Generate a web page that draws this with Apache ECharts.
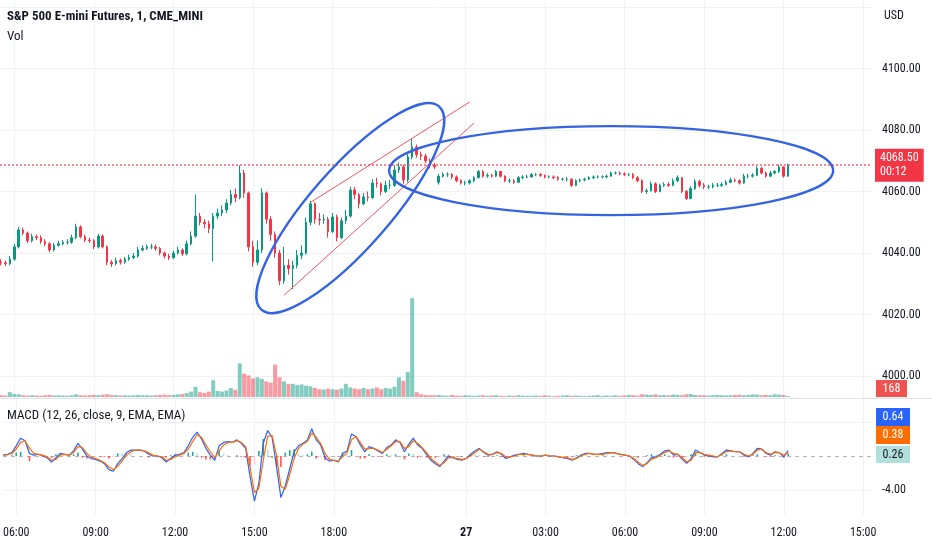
<!DOCTYPE html>
<html><head><meta charset="utf-8">
<script src="https://cdn.jsdelivr.net/npm/echarts@6/dist/echarts.min.js"></script>
<style>html,body{margin:0;padding:0;background:#fff}#c{width:932px;height:550px}</style>
</head><body><div id="c"></div>
<script>
// ---- data: 10-minute bars (index 0 = 26th 05:30) ----
const openP = [
4037,4036.8,4036.5,4038,4042,4047.5,4046.5,4044,4045.3,4045,
4043.7,4043,4041,4042.5,4043,4043.5,4043.5,4045,4048.5,4045.3,
4044.2,4044,4042,4045.5,4042,4037,4036.5,4037.5,4037,4038,
4038.5,4039,4041,4041.5,4042,4042,4041.5,4040,4039,4038.5,
4040,4041,4039.75,4043,4045.5,4052,4050,4049.5,4048,4052,
4053,4054,4056.25,4059,4058,4066,4059.5,4042,4037,4041,
4059.5,4051,4046,4040,4031,4036,4035,4036,4039.25,4040,
4050,4056,4051,4050.75,4051,4047,4051.75,4045,4050.5,4052,
4060.5,4059,4056,4058.25,4058,4062.75,4062.5,4060,4062,4062,
4067,4068,4063.75,4071.25,4074.5,4072,4071.5,4070,4068.5,4063,
4065,4065.5,4065.5,4064.75,4063.5,4062.75,4062.75,4063.5,4064.5,4066.5,
4065,4065.25,4065,4066.5,4065,4063.5,4063.5,4063,4064.5,4064.75,
4064.75,4065.5,4065.5,4065.25,4064.75,4064.75,4064.5,4064,4064,4064,
4062,4063.5,4063.75,4064,4064.5,4064.75,4064.75,4064.75,4065,4066,
4066,4065.75,4065.5,4065.5,4064.5,4063.5,4060,4060.25,4062.5,4060,
4062,4062.25,4062,4063.5,4064.5,4060,4057.75,4061,4063.25,4062,
4061.5,4061.5,4062,4062,4062.25,4063,4063.75,4063.5,4062.75,4065,
4065,4065.25,4067.5,4066,4065,4066,4066.5,4068,4065];
const closeP = [
4036.8,4036.5,4038,4042,4047.5,4046.5,4044,4045.3,4045,4043.7,
4043,4041,4042.5,4043,4043.5,4043.5,4045,4048.5,4045.3,4044.2,
4044,4042,4045.5,4042,4037,4036.5,4037.5,4037,4038,4038.5,
4039,4041,4041.5,4042,4042,4041.5,4040,4039,4038.5,4040,
4041,4039.75,4043,4045.5,4052,4050,4049.5,4048,4052,4053,
4054,4056.25,4059,4058,4066,4059.5,4042,4037,4041,4059.5,
4051,4046,4040,4031,4036,4035,4036,4039.25,4040,4050,
4056,4051,4050.75,4051,4047,4051.75,4045,4050.5,4052,4060.5,
4059,4056,4058.25,4058,4062.75,4062.5,4060,4062,4062,4067,
4068,4063.75,4071.25,4074.5,4072,4071.5,4070,4068.5,4068,4065,
4065.5,4065.5,4064.75,4063.5,4062.75,4062.75,4063.5,4064.5,4066.5,4065,
4065.25,4065,4066.5,4065,4063.5,4063.5,4063,4064.5,4064.75,4064.75,
4065.5,4065.5,4065.25,4064.75,4064.75,4064.5,4064,4064,4064,4062,
4063.5,4063.75,4064,4064.5,4064.75,4064.75,4064.75,4065,4066,4066,
4065.75,4065.5,4065.5,4064.5,4063.5,4060,4060.25,4062.5,4060,4062,
4062.25,4062,4063.5,4064.5,4060,4057.75,4061,4063.25,4062,4061.5,
4061.5,4062,4062,4062.25,4063,4063.75,4063.5,4062.75,4065,4065,
4065.25,4067.5,4066,4065,4066,4066.5,4068,4065,4068.5];
const highP = [
4038,4037.5,4039,4043,4048.5,4048.25,4047,4046.25,4046,4045.75,
4044.5,4043.5,4043.25,4044,4044.25,4044.5,4046,4049.5,4049,4046,
4045,4044.5,4046.25,4046,4042.5,4037.75,4038.5,4038.25,4038.75,4039.5,
4040,4042,4042.5,4042.75,4043,4042.75,4042,4040.5,4039.75,4040.75,
4042,4041.5,4044,4047,4059,4053,4051,4050.5,4053,4054.5,
4055.5,4057.5,4060.5,4061,4068.5,4067,4060,4044,4044,4061,
4060,4052,4047,4041,4042,4038,4037.5,4041,4042.5,4051.5,
4057,4056.5,4053,4052.5,4051.75,4053,4052.5,4051.5,4054,4061.5,
4061.5,4059.5,4059.5,4060,4064,4064.5,4063,4063.5,4063.75,4068.5,
4069.5,4068.75,4072.5,4077.25,4075.25,4073,4072.25,4070.75,4069.25,4065.75,
4066.25,4066.25,4066,4065.25,4064,4063.5,4064,4065,4067,4067,
4066,4065.75,4067,4066.75,4065.25,4064.25,4064,4065,4065.25,4065.5,
4066,4066,4066,4065.5,4065.25,4065.25,4065,4064.5,4064.75,4064.25,
4064,4064.25,4064.5,4065,4065.25,4065.25,4065.25,4065.5,4066.5,4066.5,
4066.5,4066.25,4066,4066,4065,4064,4061,4063.25,4063,4062.5,
4063,4063,4064.25,4065.25,4064.75,4060.5,4061.75,4064,4063.75,4062.75,
4062.25,4062.75,4062.75,4063,4063.75,4064.5,4064.25,4064,4065.75,4065.75,
4066,4068.25,4068,4066.5,4066.75,4067,4068.75,4068.25,4069];
const lowP = [
4036,4035.75,4036,4037.5,4041.5,4045.75,4043.25,4043.5,4044.25,4043,
4042.25,4040.25,4040.5,4042,4042.5,4042.75,4043,4044.5,4044.75,4043.5,
4043.25,4041.25,4041.5,4041.5,4036,4035.5,4036,4036.25,4036.5,4037.5,
4038,4038.5,4040.5,4041,4041.25,4040.75,4039.25,4038.25,4037.75,4038,
4039.5,4039,4039.25,4042.5,4045,4049,4048,4046.5,4037.25,4051,
4052,4053,4055.5,4056.5,4057.5,4058,4040.5,4035.5,4036,4040,
4049.5,4044,4038.5,4029.5,4030,4033,4028.25,4035,4038,4039.5,
4049,4049.5,4049,4049.5,4045,4046.5,4043.75,4044.5,4049.5,4051.5,
4057.5,4054.5,4055.5,4056.75,4057.5,4061.25,4058.75,4059.5,4060.75,4061.5,
4066,4062.5,4063,4070.5,4071,4070.25,4069.25,4067.5,4067.25,4062.25,
4064.5,4064.75,4064,4063,4062.25,4062,4062.25,4063,4064.25,4064.5,
4064.5,4064.5,4064.75,4064.5,4063,4062.75,4062.5,4062.75,4064,4064.25,
4064.5,4065,4064.75,4064.25,4064.25,4064,4063.5,4063.5,4063.25,4061.5,
4061.75,4063,4063.25,4063.75,4064,4064.25,4064.25,4064.25,4064.75,4065.5,
4065.25,4065,4065,4064,4063,4059.5,4059.25,4060,4059.5,4059.75,
4061.5,4061.5,4061.75,4063,4059.5,4057.25,4057.5,4060.5,4061.25,4060.75,
4060.75,4061,4061.5,4061.5,4062,4062.75,4063,4062.25,4062.5,4064.25,
4064.5,4065,4065.5,4064.5,4064.75,4065.5,4066,4064.5,4064.75];
const volume = [
300,250,800,500,450,300,250,300,250,200,
300,350,250,300,250,200,300,450,300,250,
300,350,300,400,450,350,300,250,300,250,
300,350,300,300,250,300,350,400,300,350,
450,500,650,900,1700,800,700,900,2800,1000,
900,1100,1500,1200,5600,3900,3600,3100,3300,3000,
2600,2400,5400,3300,2600,2200,2200,2000,2100,1900,
1800,1500,1300,1250,1400,1300,1200,1400,2200,1600,
1400,1300,1500,1300,1400,1600,1300,1500,1400,1700,
3300,2700,4200,16500,800,450,350,300,300,350,
250,200,350,250,200,300,250,200,250,300,
200,250,300,200,150,250,200,300,250,200,
200,250,200,300,200,150,200,250,300,200,
250,200,150,200,250,300,200,250,200,300,
200,250,350,300,250,450,400,350,450,300,
350,300,400,350,300,450,500,350,300,300,
250,300,350,300,250,300,350,400,300,350,
450,400,300,350,300,450,400,350,168];
const macdLine = [
0.1,0.2,0.4,1.2,2.1,1.8,0.3,0.1,0.2,0.0,
-0.2,-0.7,-0.2,0.3,0.2,0.1,0.6,1.5,0.8,0.0,
-0.3,-0.4,-0.6,-0.9,-1.6,-1.8,-0.9,-0.3,0.4,0.7,
0.7,0.7,0.6,0.2,0.0,0.0,-0.2,-0.7,-0.3,0.1,
0.2,0.4,1.2,2.2,2.8,2.0,0.9,0.1,-0.5,1.2,
1.6,1.7,1.6,1.9,1.5,0.9,-2.4,-5.3,-3.2,1.5,
3.0,2.2,-1.2,-4.9,-3.5,-1.5,0.5,1.2,1.5,1.9,
3.2,1.9,1.3,-0.2,-0.6,-0.5,-0.7,0.3,0.6,2.6,
2.3,1.3,0.5,1.1,0.9,0.6,0.3,1.0,1.3,1.9,
1.6,0.5,1.4,2.1,1.3,0.9,0.2,-0.5,-0.9,-1.25,
-0.6,0.0,-0.2,-0.4,-0.5,-0.3,0.2,0.6,0.9,0.4,
0.1,0.2,0.5,0.2,-0.3,-0.1,0.1,0.2,0.3,0.2,
0.1,0.0,0.0,0.1,0.0,0.0,-0.1,-0.2,-0.3,-0.5,
-0.2,0.1,0.3,0.3,0.2,0.2,0.3,0.4,0.4,0.3,
0.2,0.1,0.0,-0.4,-0.9,-1.25,-0.8,-0.2,-0.1,0.2,
0.6,0.7,0.1,0.2,-0.4,-0.85,-0.3,0.7,0.4,0.1,
0.0,-0.1,-0.1,0.3,0.7,0.6,0.5,0.5,0.1,-0.1,
0.3,0.9,0.8,0.3,0.1,0.5,0.4,-0.1,0.64];
const signalLine = [
0.1,0.15,0.3,0.8,1.6,1.8,0.9,0.3,0.2,0.1,
-0.1,-0.5,-0.4,0.1,0.2,0.1,0.4,1.1,1.0,0.3,
-0.1,-0.3,-0.5,-0.8,-1.3,-1.6,-1.2,-0.6,0.1,0.5,
0.7,0.7,0.6,0.4,0.1,0.0,-0.1,-0.5,-0.4,-0.1,
0.1,0.3,0.8,1.7,2.5,2.2,1.3,0.5,-0.2,0.6,
1.3,1.6,1.6,1.8,1.6,1.1,-1.3,-4.3,-3.8,-0.5,
2.3,2.4,0.1,-3.6,-3.9,-2.2,-0.3,0.9,1.4,1.7,
2.7,2.2,1.5,0.3,-0.4,-0.5,-0.6,-0.1,0.4,1.9,
2.3,1.6,0.8,0.9,0.9,0.7,0.4,0.8,1.2,1.7,
1.7,0.9,1.1,1.8,1.5,1.0,0.4,-0.3,-0.7,-1.1,
-0.8,-0.2,-0.2,-0.3,-0.4,-0.3,0.0,0.4,0.8,0.5,
0.2,0.2,0.4,0.3,-0.1,-0.1,0.0,0.2,0.2,0.2,
0.1,0.0,0.0,0.1,0.0,0.0,-0.1,-0.2,-0.2,-0.4,
-0.3,0.0,0.2,0.3,0.2,0.2,0.2,0.3,0.4,0.3,
0.2,0.1,0.0,-0.3,-0.7,-1.1,-0.9,-0.4,-0.2,0.1,
0.4,0.6,0.3,0.2,-0.2,-0.7,-0.5,0.4,0.4,0.2,
0.1,0.0,-0.1,0.2,0.5,0.6,0.5,0.5,0.2,0.0,
0.2,0.7,0.8,0.4,0.2,0.4,0.4,0.1,0.38];
const priceTicks = [4000, 4020, 4040, 4060, 4080, 4100, 4120];
const priceTickLabels = ['4000.00','4020.00','4040.00','4060.00','4080.00','4100.00',''];
const macdTicks = [4, -4];
const macdTickLabels = ['', '-4.00'];
const lastPrice = 4068.5;
const countdown = '00:12';
// annotation drawings (data coordinates: [bar index, price])
const ellipses = [
  {center: [79, 4054.6], rx: 135, ry: 40, angle: 48.8},
  {center: [138, 4066.8], rx: 222, ry: 44.5, angle: 0}
];
const channelLines = [
  [[70, 4056.45], [106, 4089.1]],
  [[64, 4026.25], [107, 4082.3]]
];

// ---- categories: 10-minute slots, session 26th 05:30-21:50, then 23:00 -> 27th 15:20 ----
function pad(n){return (n<10?'0':'')+n;}
const categories = [];
for (let t = 330; t <= 1310; t += 10) categories.push('26 ' + pad(Math.floor(t/60)) + ':' + pad(t%60));
for (let t = 1380; t <= 2360; t += 10) { const d = t >= 1440 ? '27' : '26'; const m = t % 1440; categories.push(d + ' ' + pad(Math.floor(m/60)) + ':' + pad(m%60)); }

const FONT = "'Liberation Sans Narrow', 'Roboto Condensed', Roboto, sans-serif";
const TXT = '#131722', GRID = '#eef1f6', UP = '#089981', DOWN = '#F23645';

function showTick(idx, val) {
  const v = typeof val === 'string' ? val : categories[idx];
  const h = +v.slice(3,5), m = +v.slice(6,8);
  return m === 0 && h % 3 === 0 && h !== 21;
}

const candleData = closeP.map((c,i) => [openP[i], c, lowP[i], highP[i]]);
const volData = volume.map((v,i) => ({value: v, itemStyle: {color: closeP[i] >= openP[i] ? 'rgba(8,153,129,0.5)' : 'rgba(242,54,69,0.5)'}}));
const hist = macdLine.map((m,i) => Math.round((m - signalLine[i]) * 100) / 100);
const histData = hist.map((h,i) => {
  const p = i > 0 ? hist[i-1] : h;
  const col = h >= 0 ? (p < h ? '#26A69A' : '#B2DFDB') : (p < h ? '#FFCDD2' : '#FF5252');
  return {value: h, itemStyle: {color: col}};
});

const L = 1, W = 871;
function xAxisFor(g, labels, split) {
  return {
    type: 'category', gridIndex: g, data: categories, boundaryGap: false,
    axisLine: {show: false}, axisTick: {show: false, interval: showTick},
    axisLabel: {show: labels, interval: showTick, margin: 12, color: TXT, fontSize: 12, fontFamily: FONT,
      formatter: v => v.slice(3) === '00:00' ? '{b|' + v.slice(0,2) + '}' : v.slice(3),
      rich: {b: {fontWeight: 'bold', fontSize: 12, color: TXT, fontFamily: FONT}}},
    splitLine: {show: split, interval: showTick, lineStyle: {color: GRID, width: 1}}
  };
}

const gridLineItems = priceTicks.map((v,i) => ({
  yAxis: v, lineStyle: {color: GRID, type: 'solid', width: 1},
  label: {show: priceTickLabels[i] !== '', position: 'end', distance: 10, formatter: priceTickLabels[i], color: TXT, fontSize: 12, fontFamily: FONT}
}));
// last-price badge (its dotted line is drawn as an overlay below)
gridLineItems.push({
  yAxis: lastPrice, lineStyle: {color: 'rgba(0,0,0,0)', width: 0},
  label: {show: true, position: 'end', distance: 3, formatter: lastPrice.toFixed(2) + '\n' + countdown,
    backgroundColor: DOWN, color: '#fff', padding: [3,5,2,5], lineHeight: 14, fontSize: 12, fontFamily: FONT}
});

const macdLineItems = macdTicks.map((v,i) => ({
  yAxis: v, lineStyle: {color: GRID, type: 'solid', width: 1},
  label: {show: macdTickLabels[i] !== '', position: 'end', distance: 10, formatter: macdTickLabels[i], color: TXT, fontSize: 12, fontFamily: FONT}
}));
macdLineItems.push({yAxis: 0, lineStyle: {color: 'rgba(120,123,134,0.55)', type: [4,4], width: 1}, label: {show: false}});

const chart = echarts.init(document.getElementById('c'));
chart.setOption({
  animation: false,
  backgroundColor: '#ffffff',
  grid: [
    {left: L, width: W, top: 0, height: 398},
    {left: L, width: W, top: 297, height: 100},
    {left: L, width: W, top: 399, height: 116}
  ],
  xAxis: [xAxisFor(0, false, true), xAxisFor(1, false, false), xAxisFor(2, true, true)],
  yAxis: [
    {type: 'value', gridIndex: 0, min: 3992.85, max: 4122.28, show: false},
    {type: 'value', gridIndex: 1, min: 0, max: 16700, show: false},
    {type: 'value', gridIndex: 2, min: -6.941, max: 6.706, show: false}
  ],
  series: [
    {type: 'bar', name: 'Vol', xAxisIndex: 1, yAxisIndex: 1, data: volData, barWidth: 4, silent: true, z: 1},
    {type: 'candlestick', name: 'ES', xAxisIndex: 0, yAxisIndex: 0, data: candleData, barWidth: 2, silent: true,
      itemStyle: {color: UP, color0: DOWN, borderColor: UP, borderColor0: DOWN, borderWidth: 1},
      markLine: {silent: true, symbol: ['none','none'], z: 1, animation: false, data: gridLineItems}},
    {type: 'bar', name: 'Histogram', xAxisIndex: 2, yAxisIndex: 2, data: histData, barWidth: 1.6, silent: true,
      markLine: {silent: true, symbol: ['none','none'], z: 1, animation: false, data: macdLineItems}},
    {type: 'line', name: 'MACD', xAxisIndex: 2, yAxisIndex: 2, data: macdLine, showSymbol: false, silent: true,
      lineStyle: {color: '#2962FF', width: 1.2}, itemStyle: {color: '#2962FF'}},
    {type: 'line', name: 'Signal', xAxisIndex: 2, yAxisIndex: 2, data: signalLine, showSymbol: false, silent: true,
      lineStyle: {color: '#FF6D00', width: 1.2}, itemStyle: {color: '#FF6D00'}}
  ]
});

// ---- overlays: drawings converted from data coordinates, pane titles, value badges ----
const px = p => chart.convertToPixel({xAxisIndex: 0, yAxisIndex: 0}, p);
const g = [];
const yLast = Math.round(px([0, lastPrice])[1]);
g.push({type: 'line', z: 45, silent: true, shape: {x1: 0, y1: yLast, x2: L + W, y2: yLast},
  style: {stroke: '#f5606b', lineWidth: 1.6, lineDash: [2, 2]}});
ellipses.forEach(e => {
  const c = px(e.center);
  g.push({type: 'ellipse', x: c[0], y: c[1], rotation: e.angle * Math.PI / 180, z: 50, silent: true,
    shape: {cx: 0, cy: 0, rx: e.rx, ry: e.ry}, style: {fill: 'none', stroke: '#3464e0', lineWidth: 2.4}});
});
channelLines.forEach(l => {
  const a = px(l[0]), b = px(l[1]);
  g.push({type: 'line', z: 49, silent: true, shape: {x1: a[0], y1: a[1], x2: b[0], y2: b[1]}, style: {stroke: '#F7525F', lineWidth: 1}});
});
const n = closeP.length - 1;
function badge(x, y, w, h, bg, fg, text) {
  g.push({type: 'rect', z: 60, silent: true, shape: {x: x, y: y, width: w, height: h}, style: {fill: bg}});
  g.push({type: 'text', z: 61, silent: true, x: x + w/2, y: y + h/2, style: {text: text, fill: fg, font: '12px ' + FONT, textAlign: 'center', textVerticalAlign: 'middle'}});
}
g.push({type: 'text', z: 70, x: 7, y: 17, silent: true, style: {text: 'S&P 500 E-mini Futures, 1, CME_MINI', fill: TXT, font: 'bold 13px ' + FONT, textVerticalAlign: 'middle'}});
g.push({type: 'text', z: 70, x: 7, y: 37, silent: true, style: {text: 'Vol', fill: TXT, font: '13px ' + FONT, textVerticalAlign: 'middle'}});
g.push({type: 'text', z: 70, x: 7, y: 416, silent: true, style: {text: 'MACD (12, 26, close, 9, EMA, EMA)', fill: TXT, font: '13px ' + FONT, textVerticalAlign: 'middle'}});
g.push({type: 'text', z: 70, x: 884, y: 16, silent: true, style: {text: 'USD', fill: TXT, font: '12px ' + FONT, textVerticalAlign: 'middle'}});
g.push({type: 'line', z: 40, silent: true, shape: {x1: 0, y1: 398.5, x2: 932, y2: 398.5}, style: {stroke: '#e0e3eb', lineWidth: 1}});
badge(876, 380, 31, 17, '#ef5350', '#fff', String(volume[n]));
badge(876, 408, 34, 18, '#2962FF', '#fff', macdLine[n].toFixed(2));
badge(876, 426, 34, 18, '#FF6D00', '#fff', signalLine[n].toFixed(2));
badge(876, 446, 34, 17, '#B2DFDB', TXT, hist[n].toFixed(2));
chart.setOption({graphic: g});
</script>
</body></html>
